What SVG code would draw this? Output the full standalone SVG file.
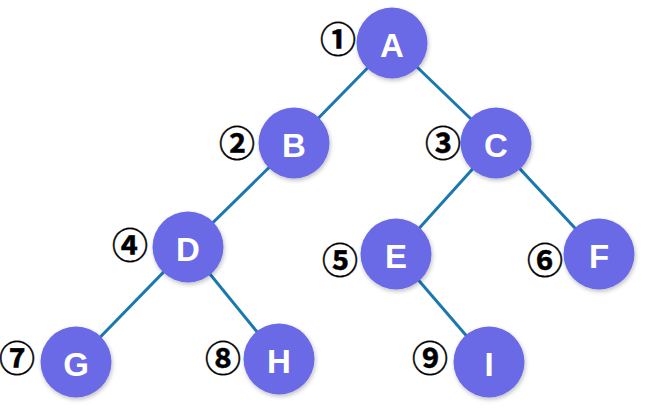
<svg xmlns="http://www.w3.org/2000/svg" width="651" height="409" viewBox="0 0 651 409">
<defs>
<filter id="sh" x="-30%" y="-30%" width="160%" height="160%">
<feDropShadow dx="1" dy="2" stdDeviation="2" flood-color="#000" flood-opacity="0.25"/>
</filter>
<style>
.n circle{fill:#6A69E6;filter:url(#sh)}
.n text{fill:#fff;font-family:"Liberation Sans",Arial,sans-serif;font-weight:bold;font-size:33px;text-anchor:middle;dominant-baseline:central}
.e line{stroke:#1A78AE;stroke-width:3}
.lb{fill:#000;stroke:#000;stroke-width:0.4;font-family:"Noto Sans CJK SC","DejaVu Sans",sans-serif;font-weight:bold;font-size:36px;text-anchor:middle;dominant-baseline:central}
</style>
</defs>
<rect width="651" height="409" fill="#fff"/>
<g id="connectors" class="e">
<line x1="392" y1="43" x2="294" y2="143"/>
<line x1="392" y1="43" x2="496" y2="143"/>
<line x1="294" y1="143" x2="188" y2="247"/>
<line x1="496" y1="143" x2="396" y2="254"/>
<line x1="496" y1="143" x2="599" y2="254"/>
<line x1="188" y1="247" x2="76" y2="362"/>
<line x1="188" y1="247" x2="279" y2="359"/>
<line x1="396" y1="254" x2="489" y2="362"/>
</g>
<g id="node-A" class="n"><circle cx="392" cy="43" r="35.5"/><text x="392" y="45">A</text></g>
<g id="node-B" class="n"><circle cx="294" cy="143" r="35.5"/><text x="294" y="145">B</text></g>
<g id="node-C" class="n"><circle cx="496" cy="143" r="35.5"/><text x="496" y="145">C</text></g>
<g id="node-D" class="n"><circle cx="188" cy="247" r="35.5"/><text x="188" y="249">D</text></g>
<g id="node-E" class="n"><circle cx="396" cy="254" r="35.5"/><text x="396" y="256">E</text></g>
<g id="node-F" class="n"><circle cx="599" cy="254" r="35.5"/><text x="599" y="256">F</text></g>
<g id="node-G" class="n"><circle cx="76" cy="362" r="35.5"/><text x="76" y="364">G</text></g>
<g id="node-H" class="n"><circle cx="279" cy="359" r="35.5"/><text x="279" y="361">H</text></g>
<g id="node-I" class="n"><circle cx="489" cy="362" r="35.5"/><text x="489" y="364">I</text></g>
<g id="labels">
<text class="lb" x="338" y="37">①</text>
<text class="lb" x="237" y="141">②</text>
<text class="lb" x="443" y="141">③</text>
<text class="lb" x="130" y="243">④</text>
<text class="lb" x="340" y="258">⑤</text>
<text class="lb" x="545" y="258">⑥</text>
<text class="lb" x="17" y="356">⑦</text>
<text class="lb" x="223" y="356">⑧</text>
<text class="lb" x="430" y="356">⑨</text>
</g>
</svg>
